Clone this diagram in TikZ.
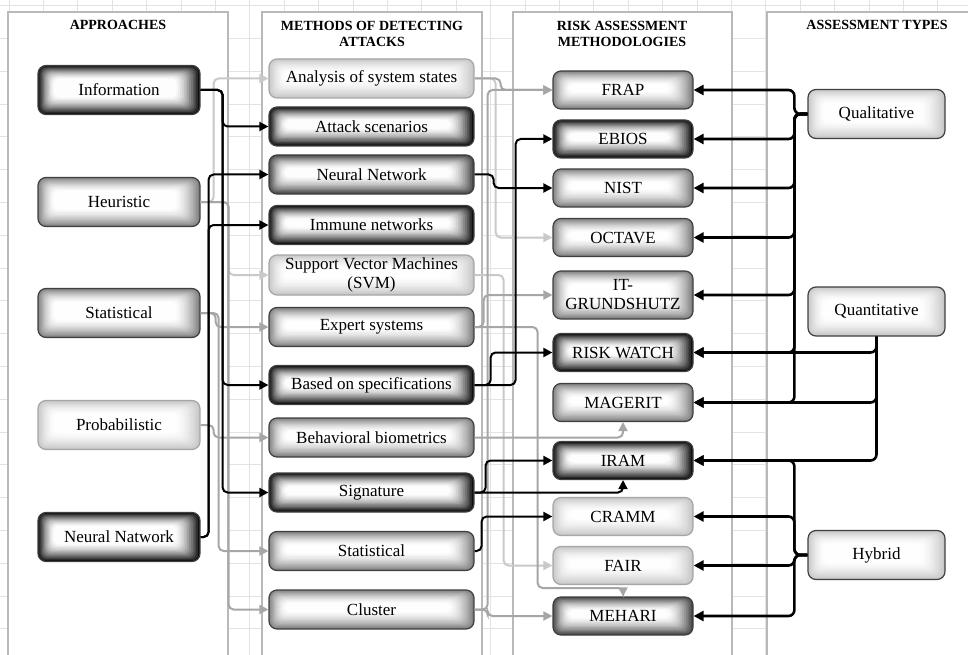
\documentclass[tikz,border=0pt]{standalone}
\usepackage{fontspec}
\setmainfont{Liberation Serif}
\usetikzlibrary{arrows.meta}

\colorlet{darkedge}{black!95}
\colorlet{midedge}{black!72}
\colorlet{lightedge}{black!50}
\colorlet{paleedge}{black!22}

\tikzset{
  glow/.style={path picture={
    \foreach \k in {0,...,13}{
      \pgfmathtruncatemacro\pct{100*(1-\k/14)^1.6}
      \fill[draw=none,#1!\pct!white,rounded corners=6pt]
        ([shift={(\k*1.2pt,-\k*1.0pt)}]path picture bounding box.north west)
        rectangle ([shift={(-\k*1.8pt,\k*1.3pt)}]path picture bounding box.south east);
    }}},
  box/.style={rounded corners=8pt,draw=black!75,line width=1.2pt,inner sep=0pt,
    align=center,font=\fontsize{17}{19}\selectfont},
  darkbox/.style={box,glow=darkedge},
  midbox/.style={box,glow=midedge},
  lightbox/.style={box,glow=lightedge},
  whitebox/.style={box,draw=black!35,glow=paleedge},
  approach/.style={minimum width=162pt,minimum height=49pt},
  method/.style={minimum width=205pt,minimum height=39pt},
  riskm/.style={minimum width=140pt,minimum height=38pt},
  atype/.style={minimum width=137pt,minimum height=49pt},
  header/.style={align=center,font=\bfseries\fontsize{14}{16.5}\selectfont},
  frame/.style={draw=gray!55,fill=white,line width=1.5pt},
  gridline/.style={gray!22,line width=0.7pt},
  blkline/.style={black,line width=2pt,rounded corners=5pt,-{Triangle[length=9pt,width=9pt]}},
  gryline/.style={gray!70,line width=2pt,rounded corners=5pt,-{Triangle[length=9pt,width=9pt]}},
  lgryline/.style={gray!42,line width=2pt,rounded corners=5pt,-{Triangle[length=9pt,width=9pt]}},
  typeline/.style={black,line width=2.6pt,rounded corners=6pt,-{Triangle[length=10pt,width=10pt]}}
}

\begin{document}
\begin{tikzpicture}[x=1pt,y=-1pt]
\useasboundingbox (0,0) rectangle (968,655);
\clip (0,0) rectangle (968,655);

% Background grid
\foreach \gx in {0,...,28} \draw[gridline] ({9+\gx*34.4},0) -- ({9+\gx*34.4},655);
\foreach \gy in {0,...,20} \draw[gridline] (0,{5.5+\gy*32.8}) -- (968,{5.5+\gy*32.8});

% Column frames
\draw[frame] (8,12) rectangle (228,670);
\draw[frame] (262,12) rectangle (482,670);
\draw[frame] (513,12) rectangle (732,670);
\draw[frame] (767,12) rectangle (985,670);

% Column headers
\node[header] (happ) at (118,25) {APPROACHES};
\node[header] (hmet) at (372,34) {METHODS OF DETECTING\\ATTACKS};
\node[header] (hrisk) at (622,34) {RISK ASSESSMENT\\METHODOLOGIES};
\node[header] (htype) at (877,25) {ASSESSMENT TYPES};

% Approaches
\node[darkbox,approach] (info) at (119,90) {Information};
\node[lightbox,approach] (heur) at (119,202) {Heuristic};
\node[lightbox,approach] (stat) at (119,313) {Statistical};
\node[whitebox,approach] (prob) at (119,425) {Probabilistic};
\node[darkbox,approach] (nnat) at (119,537) {Neural Natwork};

% Methods of detecting attacks
\node[whitebox,method] (ana) at (371.5,78.5) {Analysis of system states};
\node[darkbox,method] (att) at (371.5,126.5) {Attack scenarios};
\node[midbox,method] (nn) at (371.5,174.5) {Neural Network};
\node[darkbox,method] (imm) at (371.5,225) {Immune networks};
\node[whitebox,method,minimum height=40pt] (svm) at (371.5,275) {Support Vector Machines\\(SVM)};
\node[lightbox,method] (exp) at (371.5,327) {Expert systems};
\node[darkbox,method] (spec) at (371.5,385) {Based on specifications};
\node[lightbox,method] (beh) at (371.5,437.5) {Behavioral biometrics};
\node[darkbox,method] (sig) at (371.5,492.5) {Signature};
\node[lightbox,method] (stat2) at (371.5,551) {Statistical};
\node[lightbox,method] (clus) at (371.5,609.5) {Cluster};

% Risk assessment methodologies
\node[lightbox,riskm] (frap) at (623,90) {FRAP};
\node[darkbox,riskm] (ebios) at (623,139) {EBIOS};
\node[lightbox,riskm] (nist) at (623,188) {NIST};
\node[lightbox,riskm] (octave) at (623,237.5) {OCTAVE};
\node[lightbox,riskm,minimum height=48pt] (itg) at (623,295) {IT-\\GRUNDSHUTZ};
\node[darkbox,riskm] (rw) at (623,352.5) {RISK WATCH};
\node[lightbox,riskm] (mag) at (623,402.5) {MAGERIT};
\node[darkbox,riskm] (iram) at (623,460.5) {IRAM};
\node[whitebox,riskm] (cramm) at (623,516.5) {CRAMM};
\node[whitebox,riskm] (fair) at (623,565.5) {FAIR};
\node[midbox,riskm] (mehari) at (623,616) {MEHARI};

% Assessment types
\node[box,atype,glow=paleedge] (qual) at (876.5,114) {Qualitative};
\node[box,atype,glow=paleedge] (quan) at (876.5,311.5) {Quantitative};
\node[box,atype,glow=paleedge] (hyb) at (876.5,555) {Hybrid};

% Approaches -> methods
\draw[lgryline] (heur.east) -- ++(13,0) |- (ana.west);
\draw[lgryline] (heur.east) -- ++(28,0) |- (svm.west);
\draw[gryline] (heur.east) -- ++(28,0) |- (clus.west);
\draw[gryline] (stat.east) -- ++(15,0) |- (exp.west);
\draw[gryline] (stat.east) -- ++(18,0) |- (stat2.west);
\draw[gryline] (prob.east) -- ++(13,0) |- (beh.west);
\draw[blkline] (info.east) -- ++(22,0) |- (att.west);
\draw[blkline] (info.east) -- ++(22,0) |- (spec.west);
\draw[blkline] (info.east) -- ++(22,0) |- (sig.west);
\draw[blkline] (nnat.east) -- ++(8,0) |- (nn.west);
\draw[blkline] (nnat.east) -- ++(8,0) |- (imm.west);

% Methods -> methodologies
\draw[lgryline] (ana.east) -- ++(21,0) |- (octave.west);
\draw[lgryline] (svm.east) -- ++(29,0) |- (fair.west);
\draw[gryline] (ana.east) -- ++(26,0) |- (frap.west);
\draw[gryline] (clus.east) -- ++(13,0) |- (frap.west);
\draw[gryline] (clus.east) -- ++(13,0) |- (mehari.west);
\draw[gryline] (exp.east) -- ++(9,0) |- (itg.west);
\draw[gryline] (exp.east) -- ++(63,0) -- ++(0,261) -| (mehari.north);
\draw[gryline] (beh.east) -| (mag.south);
\draw[blkline] (nn.east) -- ++(19,0) |- (nist.west);
\draw[blkline] (spec.east) -- ++(41,0) |- (ebios.west);
\draw[blkline] (spec.east) -- ++(16,0) |- (rw.west);
\draw[blkline] (sig.east) -- ++(11,0) |- (iram.west);
\draw[blkline] (sig.east) -| (iram.south);
\draw[blkline] (stat2.east) -- ++(7,0) |- (cramm.west);

% Assessment types -> methodologies
\foreach \m in {frap,ebios,nist,octave,itg,rw,mag}
  \draw[typeline] (qual.west) -- ++(-13,0) |- (\m.east);
\foreach \m in {rw,mag,iram}
  \draw[typeline] (quan.south) |- (\m.east);
\foreach \m in {iram,cramm,fair,mehari}
  \draw[typeline] (hyb.west) -- ++(-13,0) |- (\m.east);
\end{tikzpicture}
\end{document}
